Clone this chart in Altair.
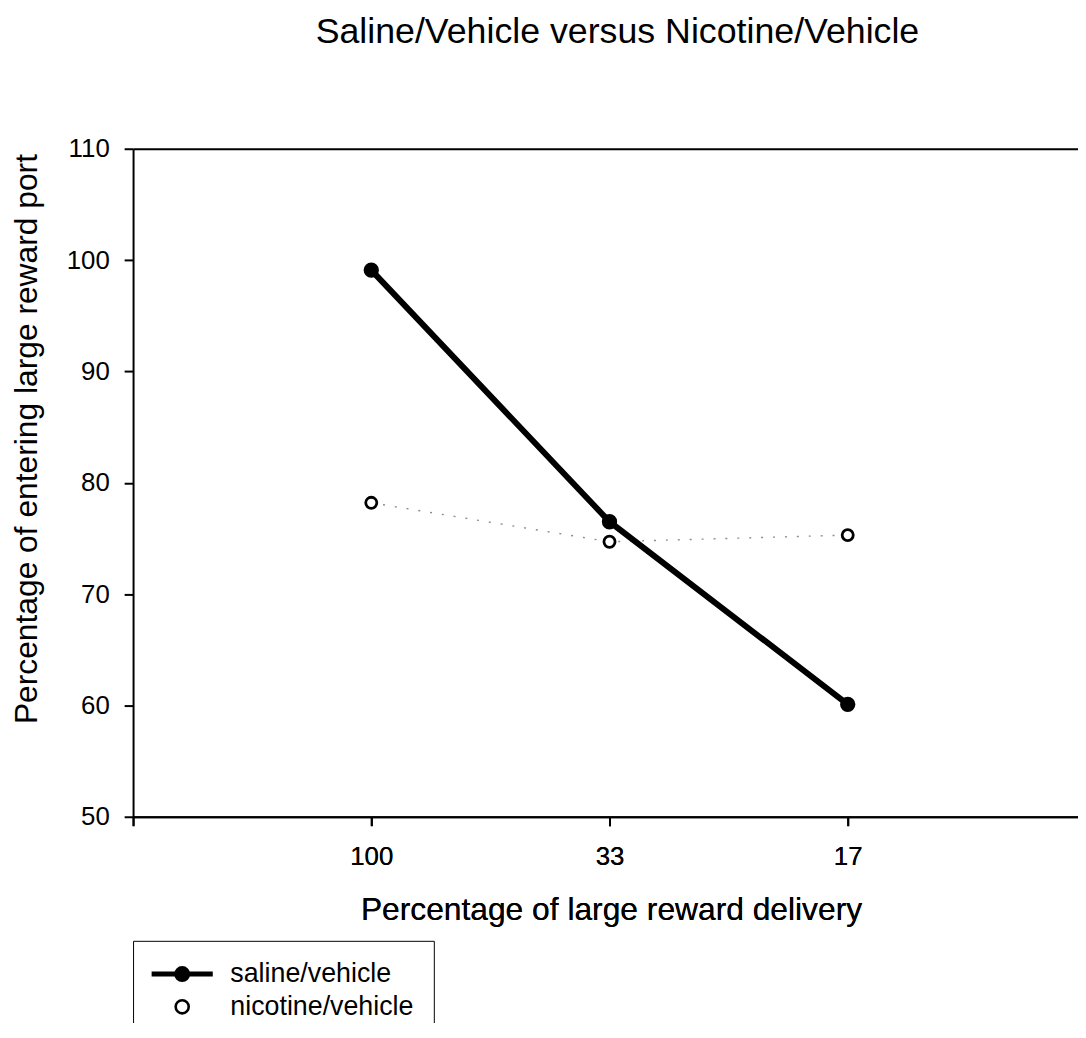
import altair as alt
import pandas as pd

# ---- data ----
reward_delivery = ["100", "33", "17"]          # x categories (left to right)
saline_vehicle = [99.1, 76.5, 60.1]
nicotine_vehicle = [78.2, 74.7, 75.3]
series_names = ["saline/vehicle", "nicotine/vehicle"]
y_ticks = [50, 60, 70, 80, 90, 100, 110]

rows = []
for i, cat in enumerate(reward_delivery):
    rows.append({"delivery": cat, "pos": i + 1, "series": series_names[0], "value": saline_vehicle[i]})
    rows.append({"delivery": cat, "pos": i + 1, "series": series_names[1], "value": nicotine_vehicle[i]})
df = pd.DataFrame(rows)

FONT = "Liberation Sans"
W, H = 952, 673
x_max = W / 240.0

label_expr = " : ".join(
    [f"datum.value == {i + 1} ? '{c}'" for i, c in enumerate(reward_delivery)]
) + " : ''"

x_scale = alt.Scale(domain=[0, x_max], nice=False, zero=False)
y_scale = alt.Scale(domain=[50, 110], nice=False, zero=False)

x_bottom = alt.X(
    "pos:Q", scale=x_scale,
    axis=alt.Axis(
        orient="bottom", values=[0, 1, 2, 3], labelExpr=label_expr,
        title="Percentage of large reward delivery",
        labelPadding=18, titleX=481.5, titleY=104, titleBaseline="alphabetic",
        titleAlign="center", grid=False,
    ),
)
x_top = alt.X(
    "pos:Q", scale=x_scale,
    axis=alt.Axis(orient="top", labels=False, ticks=False, title=None, grid=False),
)
y_enc = alt.Y(
    "value:Q", scale=y_scale,
    axis=alt.Axis(
        values=y_ticks, title="Percentage of entering large reward port",
        labelPadding=15, titleX=-97, titleY=292, titleBaseline="alphabetic",
        titleAlign="center", titleAngle=270, grid=False,
    ),
)

base = alt.Chart(df)

nic_line = base.transform_filter(alt.datum.series == series_names[1]).mark_line(
    color="#8c8c8c", strokeWidth=1.4, strokeDash=[2, 10]
).encode(x=x_top, y=y_enc)

sal_line = base.transform_filter(alt.datum.series == series_names[0]).mark_line(
    color="black", strokeWidth=6
).encode(x=x_bottom, y=y_enc)

sal_path = "M-2.2,0H2.2M0.4,0A0.4,0.4,0,1,1,-0.4,0A0.4,0.4,0,1,1,0.4,0Z"
nic_path = "M0.47,0A0.47,0.47,0,1,1,-0.47,0A0.47,0.47,0,1,1,0.47,0Z"

legend = alt.Legend(
    title=None, orient="none", legendX=0, legendY=798,
    strokeColor="black", padding=20, fillColor="white",
    labelFont=FONT, labelFontSize=27, labelColor="black", labelLimit=500,
    symbolSize=784,
    symbolType={"expr": f"datum.value === '{series_names[0]}' ? '{sal_path}' : '{nic_path}'"},
    symbolStrokeColor="black",
    symbolStrokeWidth={"expr": f"datum.value === '{series_names[0]}' ? 5 : 2.6"},
    symbolOpacity=1, labelOffset=35, symbolOffset=16, rowPadding=2,
)

points = base.mark_point(opacity=1, stroke="black", strokeWidth=2.8).encode(
    x=x_bottom, y=y_enc,
    fill=alt.Fill("series:N", scale=alt.Scale(domain=series_names, range=["black", "white"]), legend=legend),
    size=alt.condition(alt.datum.series == series_names[0], alt.value(160), alt.value(125)),
)

chart = alt.layer(nic_line, sal_line, points).properties(
    width=W, height=H,
    background="white",
    autosize=alt.AutoSizeParams(type="none"),
    padding={"left": 126, "top": 138, "right": 0, "bottom": 204},
    title=alt.TitleParams(
        "Saline/Vehicle versus Nicotine/Vehicle", font=FONT, fontSize=36,
        fontWeight="normal", color="black", anchor="middle", frame="group",
        dx=12, offset=58, baseline="alphabetic",
    ),
).configure_view(strokeWidth=0).configure_axis(
    domainColor="black", domainWidth=2, tickColor="black", tickWidth=2, tickSize=9,
    labelFont=FONT, labelFontSize=26, labelColor="black",
    titleFont=FONT, titleFontSize=32, titleFontWeight="normal", titleColor="black",
    grid=False,
)

chart.save("out.html", embed_options={"renderer": "svg", "actions": False})
